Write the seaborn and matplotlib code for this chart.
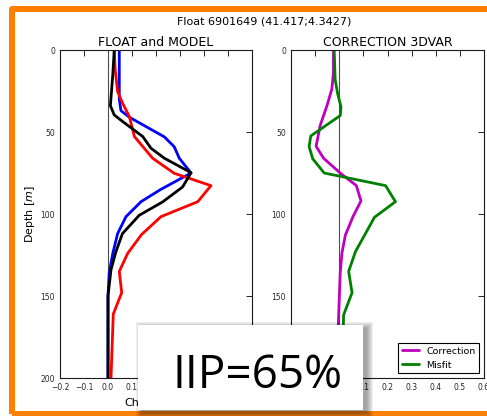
import matplotlib
matplotlib.use("Agg")
import matplotlib.pyplot as plt
import seaborn as sns
from matplotlib.patches import Rectangle

W, H = 487, 416

# ---- data ----
model_depth = [0, 30, 37, 41, 53, 59, 66, 75, 85, 92.5, 101.6, 112, 124, 136, 150, 200]
model_chl = [0.047, 0.047, 0.054, 0.089, 0.235, 0.276, 0.297, 0.346, 0.22, 0.1375,
             0.075, 0.04, 0.02, 0.005, 0.0, 0.0]

analysis_depth = [0, 15, 30, 34, 39.6, 43.6, 52.8, 59.9, 66, 74.8, 83.5, 92.6, 100.8,
                  112, 123, 134, 150, 200]
analysis_chl = [0.026, 0.02, 0.012, 0.01, 0.026, 0.061, 0.145, 0.179, 0.235, 0.346,
                0.311, 0.228, 0.13, 0.06, 0.033, 0.0125, 0.0, 0.0]

float_depth = [0, 12, 25.4, 32.5, 40.6, 52.8, 66, 75.2, 82.7, 92.5, 101.6, 112.5, 124,
               135, 148, 161, 200]
float_chl = [0.026, 0.03, 0.04, 0.061, 0.089, 0.11, 0.186, 0.276, 0.429, 0.374, 0.221,
             0.14, 0.082, 0.047, 0.057, 0.022, 0.0125]

corr_depth = [0, 14, 24, 34, 46, 58.7, 66, 75, 82.7, 92, 101.6, 113, 124, 136, 168, 200]
corr_val = [-0.024, -0.024, -0.031, -0.051, -0.079, -0.096, -0.065, 0.004, 0.071, 0.09,
            0.057, 0.025, 0.011, 0.004, -0.004, -0.004]

misfit_depth = [0, 18, 26.4, 34.5, 40, 52.4, 58.9, 66.3, 75, 82.7, 92.5, 102, 123, 135,
                148, 161.6, 200]
misfit_val = [-0.021, -0.017, -0.007, 0.007, 0.004, -0.118, -0.125, -0.11, -0.0625,
              0.192, 0.233, 0.146, 0.067, 0.039, 0.053, 0.018, 0.012]

x_ticks = [-0.2, -0.1, 0.0, 0.1, 0.2, 0.3, 0.4, 0.5, 0.6]
y_ticks = [0, 50, 100, 150, 200]

suptitle = "Float 6901649 (41.417;4.3427)"
title_left = "FLOAT and MODEL"
title_right = "CORRECTION 3DVAR"
overlay_text = "IIP=65%"

sns.set_style("white")
plt.rcParams['font.family'] = ['DejaVu Sans']
plt.rcParams['text.color'] = 'black'
plt.rcParams['axes.titlecolor'] = 'black'

fig = plt.figure(figsize=(W / 100, H / 100), dpi=100)


def fx(px):
    return px / W


def fy(py):
    return 1 - py / H


ax1 = fig.add_axes([fx(60), fy(378), (252 - 60) / W, (378 - 50) / H])
ax2 = fig.add_axes([fx(291), fy(378), (484 - 291) / W, (378 - 50) / H])

for ax in (ax1, ax2):
    ax.axvline(0, color='0.3', lw=0.8, zorder=1)

sns.lineplot(x=model_chl, y=model_depth, sort=False, estimator=None, color='b',
             lw=2, ax=ax1, legend=False)
sns.lineplot(x=float_chl, y=float_depth, sort=False, estimator=None, color='r',
             lw=2, ax=ax1, legend=False)
sns.lineplot(x=analysis_chl, y=analysis_depth, sort=False, estimator=None, color='k',
             lw=2, ax=ax1, legend=False)

sns.lineplot(x=corr_val, y=corr_depth, sort=False, estimator=None, color='m',
             lw=2, ax=ax2, label='Correction')
sns.lineplot(x=misfit_val, y=misfit_depth, sort=False, estimator=None, color='g',
             lw=2, ax=ax2, label='Misfit')

for ax in (ax1, ax2):
    ax.set_xlim(-0.2, 0.6)
    ax.set_ylim(200, 0)
    ax.set_xticks(x_ticks)
    ax.set_yticks(y_ticks)
    ax.tick_params(direction='in', top=True, right=True, length=4, width=0.6,
                   labelsize=5.5, color='k', labelcolor='0.15')
    for s in ax.spines.values():
        s.set_color('0.1')
        s.set_linewidth(0.8)
    ax.set_xlabel('')
    ax.set_ylabel('')

ax1.set_title(title_left, fontsize=9, pad=3)
ax2.set_title(title_right, fontsize=9, pad=3)

leg = ax2.legend(loc='lower right', fontsize=6.8, frameon=True, fancybox=False,
                 edgecolor='k', framealpha=1, handlelength=1.8, borderaxespad=0.5)
leg.get_frame().set_linewidth(0.8)

fig.text(fx(264.5), fy(22), suptitle, ha='center', va='center', fontsize=8)
fig.text(fx(30), fy(214), "Depth $[m]$", rotation=90, ha='center', va='center',
         fontsize=8)
fig.text(fx(156), fy(406), "Chlorophyll", ha='center', va='baseline', fontsize=8)

# orange frame
frame = Rectangle((fx(12), fy(413.5)), fx(500) - fx(12), fy(9) - fy(413.5),
                  transform=fig.transFigure, fill=False, ec='#ff8000', lw=6 * 0.72,
                  joinstyle='round', zorder=5)
fig.patches.append(frame)

# overlay box with soft shadow
bx0, by0, bx1, by1 = 138, 325, 363, 410
for k in range(7):
    sh = Rectangle((fx(bx0 + 4 - k), fy(by1 + 3 + k)),
                   (bx1 - bx0 + 2 * k) / W, (by1 - by0 + 2 * k) / H,
                   transform=fig.transFigure, fc='black', ec='none', alpha=0.06,
                   zorder=8)
    fig.patches.append(sh)
box = Rectangle((fx(bx0), fy(by1)), (bx1 - bx0) / W, (by1 - by0) / H,
                transform=fig.transFigure, fc='white', ec='none', zorder=9)
fig.patches.append(box)
fig.text(fx(257.5), fy(388.3), overlay_text, ha='center', va='baseline', fontsize=33,
         color='black', family=['Open Sans', 'DejaVu Sans'], zorder=12)

fig.savefig("out.png", dpi=100)
